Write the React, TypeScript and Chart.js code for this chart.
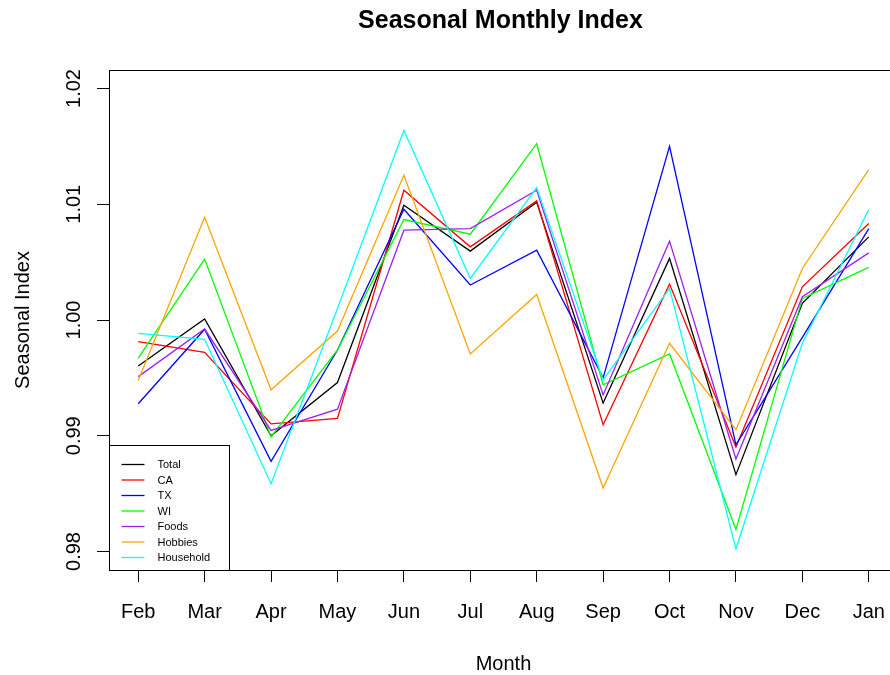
import React, { useEffect, useRef } from "react";
import { Chart, registerables } from "chart.js";

Chart.register(...registerables);

const months = ["Feb", "Mar", "Apr", "May", "Jun", "Jul", "Aug", "Sep", "Oct", "Nov", "Dec", "Jan"];
const yTicks = [0.98, 0.99, 1.0, 1.01, 1.02];
const yTickLabels = ["0.98", "0.99", "1.00", "1.01", "1.02"];

const seriesNames = ["Total", "CA", "TX", "WI", "Foods", "Hobbies", "Household"];
const seriesColors = ["#000000", "#FF0000", "#0000FF", "#00FF00", "#A020F0", "#FFA500", "#00FFFF"];

const total = [0.99603, 1.00009, 0.99000, 0.99460, 1.00991, 1.00595, 1.01017, 0.99282, 1.00532, 0.98664, 1.00144, 1.00718];
const ca = [0.99813, 0.99721, 0.99103, 0.99149, 1.01121, 1.00632, 1.01029, 0.99095, 1.00310, 0.98902, 1.00287, 1.00833];
const tx = [0.99276, 0.99920, 0.98779, 0.99741, 1.00957, 1.00302, 1.00603, 0.99500, 1.01500, 0.98922, 0.99850, 1.00790];
const wi = [0.99670, 1.00526, 0.98989, 0.99741, 1.00868, 1.00741, 1.01523, 0.99440, 0.99707, 0.98190, 1.00187, 1.00454];
const foods = [0.99511, 0.99922, 0.99046, 0.99230, 1.00776, 1.00790, 1.01121, 0.99353, 1.00681, 0.98799, 1.00201, 1.00580];
const hobbies = [0.99477, 1.00888, 0.99397, 0.99905, 1.01250, 0.99707, 1.00221, 0.98549, 0.99799, 0.99052, 1.00445, 1.01299];
const household = [0.99885, 0.99833, 0.98586, 1.00100, 1.01638, 1.00359, 1.01144, 0.99483, 1.00273, 0.98023, 0.99800, 1.00954];

const seriesValues = [total, ca, tx, wi, foods, hobbies, household];

const titleText = "Seasonal Monthly Index";
const xTitle = "Month";
const yTitle = "Seasonal Index";

const FONT = '"Liberation Sans", Arial, Helvetica, sans-serif';

const rPlotPlugin = {
  id: "rPlot",
  afterDraw(chart: any) {
    const ctx = chart.ctx;
    const { left, top, right, bottom } = chart.chartArea;
    const ys = chart.scales.y;
    const cx = (left + right) / 2;
    const cy = (top + bottom) / 2;
    ctx.save();
    ctx.fillStyle = "#000";
    ctx.strokeStyle = "#000";
    ctx.lineWidth = 1;

    // box
    ctx.strokeRect(Math.round(left) + 0.5, Math.round(top) + 0.5, Math.round(right - left), Math.round(bottom - top));

    // title
    ctx.font = `bold 25px ${FONT}`;
    ctx.textAlign = "center";
    ctx.textBaseline = "alphabetic";
    ctx.fillText(titleText, cx - 3, 28);

    // x title
    ctx.font = `20px ${FONT}`;
    ctx.fillText(xTitle, cx, 670);

    // y title
    ctx.save();
    ctx.translate(29, cy);
    ctx.rotate(-Math.PI / 2);
    ctx.fillText(yTitle, 0, 0);
    ctx.restore();

    // y tick labels (rotated)
    yTicks.forEach((v, i) => {
      const py = ys.getPixelForValue(v);
      ctx.save();
      ctx.translate(80, py);
      ctx.rotate(-Math.PI / 2);
      ctx.fillText(yTickLabels[i], 0, 0);
      ctx.restore();
    });

    // legend
    const lw = 120;
    const lh = 125;
    const lx = Math.round(left) + 0.5;
    const ly = Math.round(bottom - lh) + 0.5;
    ctx.fillStyle = "#fff";
    ctx.fillRect(lx, ly, lw, lh);
    ctx.strokeStyle = "#000";
    ctx.strokeRect(lx, ly, lw, lh);
    ctx.font = `11px ${FONT}`;
    ctx.textAlign = "left";
    ctx.textBaseline = "middle";
    chart.data.datasets.forEach((ds: any, i: number) => {
      const ry = ly + 19 + i * 15.5;
      ctx.strokeStyle = ds.borderColor;
      ctx.lineWidth = 1.3;
      ctx.beginPath();
      ctx.moveTo(lx + 12, ry);
      ctx.lineTo(lx + 35, ry);
      ctx.stroke();
      ctx.fillStyle = "#000";
      ctx.fillText(ds.label, lx + 48, ry + 0.5);
    });
    ctx.restore();
  },
};

export default function App() {
  const ref = useRef<HTMLCanvasElement>(null);
  useEffect(() => {
    if (!ref.current) return;
    const datasets = seriesNames.map((name, si) => ({
      label: name,
      data: seriesValues[si].map((v, i) => ({ x: i + 1, y: v })),
      borderColor: seriesColors[si],
      backgroundColor: seriesColors[si],
      borderWidth: 1.3,
      pointRadius: 0,
      tension: 0,
      fill: false,
      order: seriesNames.length - si,
    }));
    const chart = new Chart(ref.current, {
      type: "line",
      data: { datasets },
      options: {
        responsive: false,
        animation: false,
        events: [],
        layout: { padding: { top: 70, right: 12, left: 0, bottom: 0 } },
        plugins: {
          legend: { display: false },
          tooltip: { enabled: false },
          title: { display: false },
        },
        scales: {
          x: {
            type: "linear",
            min: 0.56,
            max: 12.44,
            afterBuildTicks: (scale: any) => {
              scale.ticks = months.map((_, i) => ({ value: i + 1 }));
            },
            afterFit: (scale: any) => {
              scale.height = 105;
            },
            grid: {
              display: true,
              drawOnChartArea: false,
              drawTicks: true,
              tickLength: 12,
              color: "#000",
              lineWidth: 1,
            },
            border: { display: false },
            ticks: {
              autoSkip: false,
              maxRotation: 0,
              minRotation: 0,
              padding: 18,
              color: "#000",
              font: { family: FONT, size: 20 },
              callback: (v: any) => months[Math.round(Number(v)) - 1] ?? "",
            },
          },
          y: {
            type: "linear",
            min: 0.9784,
            max: 1.0216,
            afterBuildTicks: (scale: any) => {
              scale.ticks = yTicks.map((v) => ({ value: v }));
            },
            afterFit: (scale: any) => {
              scale.width = 109;
            },
            grid: {
              display: true,
              drawOnChartArea: false,
              drawTicks: true,
              tickLength: 12,
              color: "#000",
              lineWidth: 1,
            },
            border: { display: false },
            ticks: { display: false },
          },
        },
      },
      plugins: [rPlotPlugin],
    });
    return () => chart.destroy();
  }, []);
  return (
    <div style={{ position: "absolute", left: 0, top: 0, width: 890, height: 675, overflow: "hidden", background: "#fff" }}>
      <canvas ref={ref} width={910} height={675} style={{ display: "block", width: 910, height: 675 }} />
    </div>
  );
}
